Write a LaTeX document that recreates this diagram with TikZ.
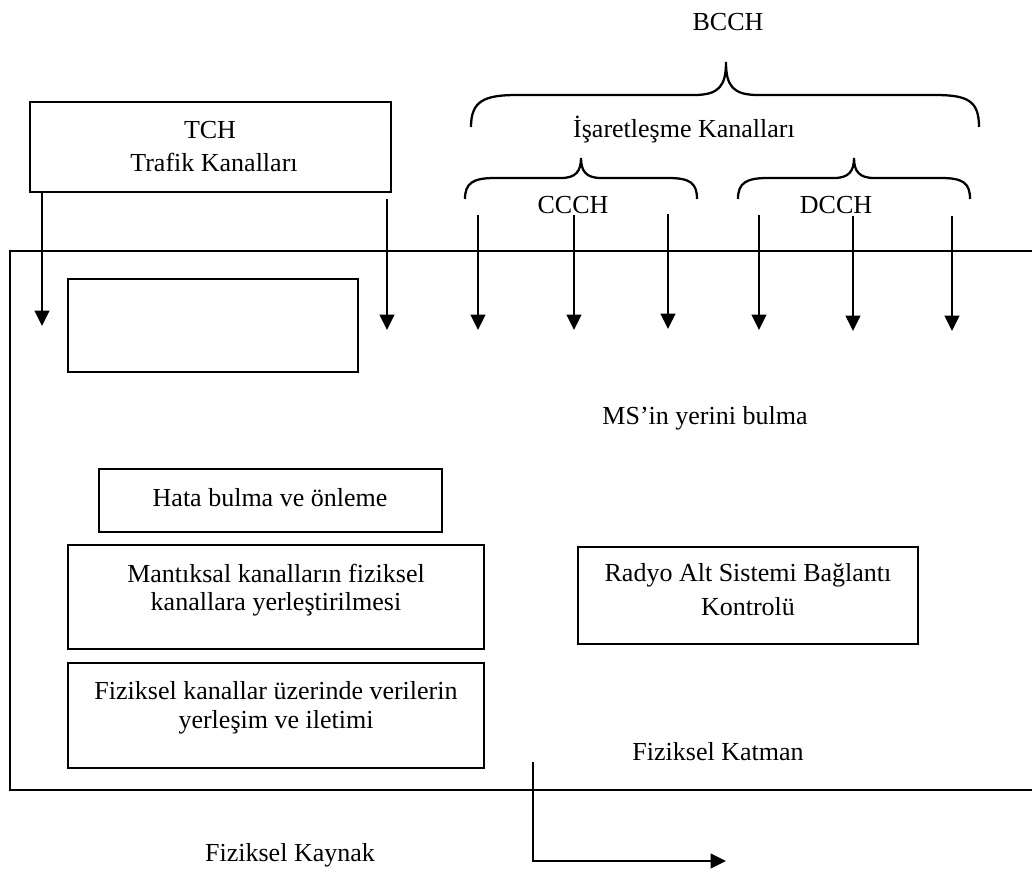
\documentclass[tikz,border=0pt]{standalone}
\usepackage{fontspec}
\setmainfont{Liberation Serif}
\usetikzlibrary{arrows.meta}
\begin{document}
\begin{tikzpicture}[x=0.75pt,y=-0.75pt, line width=1.7pt,
  lbl/.style={font=\fontsize{19.5}{24}\selectfont, inner sep=0pt, align=center},
  boxnode/.style={draw, line width=1.7pt, inner sep=0pt},
  arr/.style={-{Triangle[length=11.5pt,width=11pt]}},
  brc/.style={line width=1.7pt}]
\useasboundingbox (0,0) rectangle (1032,874);
% outer frame (open on the right)
\draw (1035,251) -- (10,251) -- (10,790) -- (1035,790);
% TCH box
\node[boxnode, minimum width=361*0.75pt, minimum height=90*0.75pt] (tch) at (210.5,147) {};
\node[lbl] (tcht) at (210,130) {TCH};
\node[lbl] (trafik) at (214,162) {Trafik Kanalları};
% empty box
\node[boxnode, minimum width=290*0.75pt, minimum height=93*0.75pt] (empty) at (213,325.5) {};
% left arrows
\coordinate (a1s) at (42,192); \coordinate (a1e) at (42,326);
\coordinate (a2s) at (387,199); \coordinate (a2e) at (387,330);
\draw[arr] (a1s) -- (a1e);
\draw[arr] (a2s) -- (a2e);
% right arrows
\foreach \i/\xx/\ya/\yb in {1/478/215/330, 2/574/215/330, 3/668/214/329, 4/759/215/330, 5/853/216/331, 6/952/216/331}{
  \coordinate (c\i s) at (\xx,\ya); \coordinate (c\i e) at (\xx,\yb);
  \draw[arr] (c\i s) -- (c\i e);
}
% BCCH brace
\draw[brc] (471,127) .. controls (471,101) and (484,95) .. (517,95) -- (694,95)
  .. controls (719,95) and (726,86) .. (726,62)
  .. controls (726,86) and (733,95) .. (758,95) -- (935,95)
  .. controls (968,95) and (979,101) .. (979,127);
\node[lbl] (bcch) at (728,22) {BCCH};
\node[lbl] (isk) at (684,130) {İşaretleşme Kanalları};
% CCCH brace
\draw[brc] (465,199) .. controls (465,183) and (473,178) .. (495,178) -- (561,178)
  .. controls (576,178) and (581,171) .. (581,158)
  .. controls (581,171) and (586,178) .. (601,178) -- (668,178)
  .. controls (690,178) and (697,183) .. (697,199);
\node[lbl] (ccch) at (573,205) {CCCH};
% DCCH brace
\draw[brc] (738,199) .. controls (738,183) and (746,178) .. (768,178) -- (834,178)
  .. controls (849,178) and (854,171) .. (854,158)
  .. controls (854,171) and (859,178) .. (874,178) -- (941,178)
  .. controls (963,178) and (970,183) .. (970,199);
\node[lbl] (dcch) at (836,205) {DCCH};
% texts and boxes
\node[lbl] (ms) at (705,418) {MS’in yerini bulma};
\node[boxnode, minimum width=343*0.75pt, minimum height=63*0.75pt] (hata) at (270.5,500.5) {};
\node[lbl] (hatat) at (270,498) {Hata bulma ve önleme};
\node[boxnode, minimum width=416*0.75pt, minimum height=104*0.75pt] (mant) at (276,597) {};
\node[lbl] (mant1) at (276,573) {Mantıksal kanalların fiziksel};
\node[lbl] (mant2) at (276,604) {kanallara yerleştirilmesi};
\node[boxnode, minimum width=416*0.75pt, minimum height=105*0.75pt] (fiz) at (276,715.5) {};
\node[lbl] (fiz1) at (276,691) {Fiziksel kanallar üzerinde verilerin};
\node[lbl] (fiz2) at (276,722) {yerleşim ve iletimi};
\node[boxnode, minimum width=340*0.75pt, minimum height=97*0.75pt] (radyo) at (748,595.5) {};
\node[lbl] (radyo1) at (748,575) {Radyo Alt Sistemi Bağlantı};
\node[lbl] (radyo2) at (748,607) {Kontrolü};
\node[lbl] (katman) at (718,752) {Fiziksel Katman};
\node[lbl] (kaynak) at (290,855) {Fiziksel Kaynak};
% bottom arrow
\coordinate (b0) at (533,762); \coordinate (b1) at (533,861); \coordinate (b2) at (726,861);
\draw[arr] (b0) -- (b1) -- (b2);
\end{tikzpicture}
\end{document}
